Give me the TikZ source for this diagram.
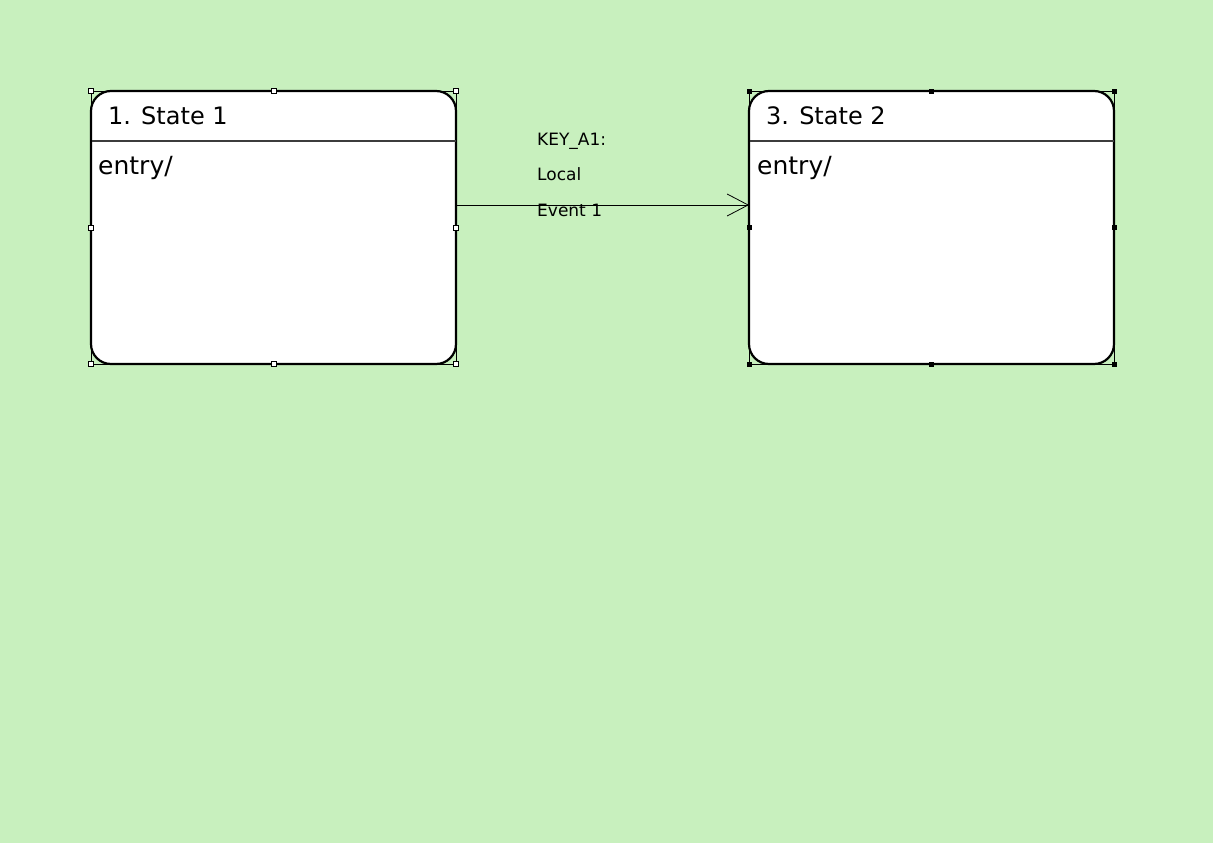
\documentclass[tikz,border=0pt]{standalone}
\usepackage{fontspec}
\setmainfont{DejaVu Sans}
\usetikzlibrary{arrows.meta}
\definecolor{canvas}{RGB}{200,240,190}
\definecolor{sepline}{RGB}{60,60,60}
\begin{document}
\begin{tikzpicture}[x=1pt,y=-1pt,
  statebox/.style={draw=black, line width=2.2pt, fill=white, rounded corners=20pt,
    minimum width=365pt, minimum height=273pt, inner sep=0pt, outer sep=0pt},
  selframe/.style={draw=black, line width=0.6pt},
  handleopen/.style={draw=black, fill=white, line width=0.6pt, minimum size=5pt,
    inner sep=0pt, outer sep=0pt},
  handlesolid/.style={draw=black, fill=black, line width=0.4pt, minimum size=4pt,
    inner sep=0pt, outer sep=0pt},
  title/.style={anchor=base west, inner sep=0pt, font=\fontsize{24}{29}\selectfont},
  body/.style={anchor=base west, inner sep=0pt, font=\fontsize{25}{30}\selectfont},
  trlabel/.style={anchor=base west, inner sep=0pt, font=\fontsize{17}{20}\selectfont},
  transition/.style={draw=black, line width=0.8pt,
    -{Straight Barb[length=21pt, width=22pt, line width=0.8pt]}}
]
\useasboundingbox (0,0) rectangle (1231,861);
\fill[white] (0,0) rectangle (1231,861);
\fill[canvas] (0,0) rectangle (1213,843);

% state boxes
\node[statebox] (s1) at (273.5,227.5) {};
\node[statebox] (s2) at (931.5,227.5) {};

% header separators
\draw[sepline, line width=1.5pt] (s1.west |- 0,141) -- (s1.east |- 0,141);
\draw[sepline, line width=1.5pt] (s2.west |- 0,141) -- (s2.east |- 0,141);

% texts
\node[title] (t1) at (108,125) {1. State 1};
\node[body]  (e1) at (98,175) {entry/};
\node[title] (t2) at (766,125) {3. State 2};
\node[body]  (e2) at (757,175) {entry/};

% selection frames and handles
\draw[selframe] (s1.south west) rectangle (s1.north east);
\draw[selframe] (s2.south west) rectangle (s2.north east);
\foreach \a [count=\i] in {north west,north,north east,west,east,south west,south,south east}{
  \node[handleopen]  (h1-\i) at (s1.\a) {};
  \node[handlesolid] (h2-\i) at (s2.\a) {};
}

% transition
\draw[transition] ([yshift=22.5pt]s1.east) -- ([yshift=22.5pt]s2.west);
\node[trlabel] (l1) at (537,146) {KEY\_A1:};
\node[trlabel] (l2) at (537,181) {Local};
\node[trlabel] (l3) at (537,216) {Event 1};
\end{tikzpicture}
\end{document}
